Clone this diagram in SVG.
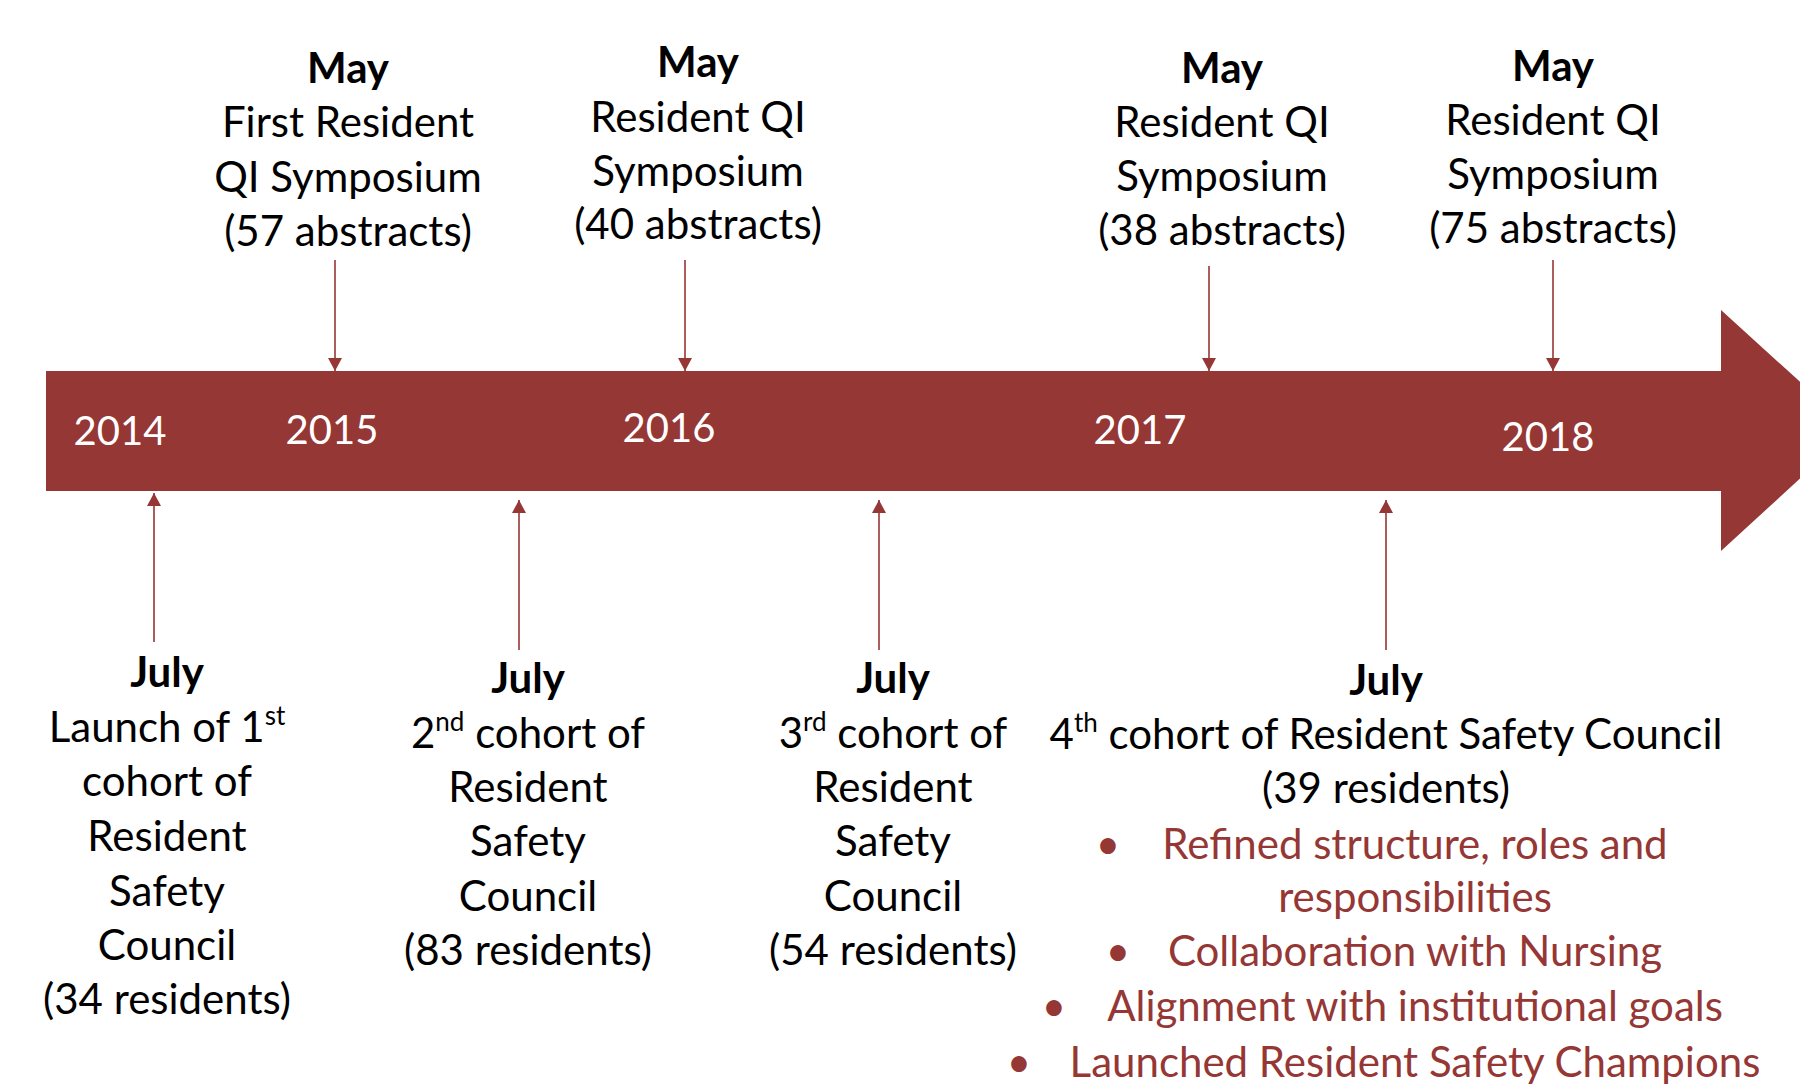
<svg xmlns="http://www.w3.org/2000/svg" width="1800" height="1088" viewBox="0 0 1800 1088">
<style>
.t{font-family:Lato,"Liberation Sans",sans-serif;font-size:42px;fill:#000;text-anchor:middle}
.b{font-weight:bold}
.y{font-family:Lato,"Liberation Sans",sans-serif;font-size:40px;fill:#fff;text-anchor:middle}
.r{fill:#953735}
.sup{font-size:26px}
.c{stroke:#953735;stroke-width:1.6;fill:none}
</style>
<defs>
<marker id="ah" markerUnits="userSpaceOnUse" markerWidth="14" markerHeight="14" refX="13" refY="7" orient="auto">
<path d="M0,0 L13,7 L0,14 z" fill="#953735"/>
</marker>
</defs>
<rect width="1800" height="1088" fill="#fff"/>
<g id="timeline">
<path d="M46,371 H1721 V310 L1853,430 L1721,551 V491 H46 Z" fill="#953735"/>
<text class="y" x="120" y="445">2014</text>
<text class="y" x="332" y="444">2015</text>
<text class="y" x="669" y="442">2016</text>
<text class="y" x="1140" y="444">2017</text>
<text class="y" x="1548" y="451">2018</text>
</g>
<g id="connectors">
<line class="c" x1="335" y1="260" x2="335" y2="371" marker-end="url(#ah)"/>
<line class="c" x1="685" y1="260" x2="685" y2="371" marker-end="url(#ah)"/>
<line class="c" x1="1209" y1="266" x2="1209" y2="371" marker-end="url(#ah)"/>
<line class="c" x1="1553" y1="260" x2="1553" y2="371" marker-end="url(#ah)"/>
<line class="c" x1="154" y1="642" x2="154" y2="493" marker-end="url(#ah)"/>
<line class="c" x1="519" y1="650" x2="519" y2="500" marker-end="url(#ah)"/>
<line class="c" x1="879" y1="650" x2="879" y2="500" marker-end="url(#ah)"/>
<line class="c" x1="1386" y1="650" x2="1386" y2="500" marker-end="url(#ah)"/>
</g>
<g id="may2015">
<text class="t b" x="348" y="83">May</text>
<text class="t" x="348" y="137">First Resident</text>
<text class="t" x="348" y="192">QI Symposium</text>
<text class="t" x="348" y="246">(57 abstracts)</text>
</g>
<g id="may2016">
<text class="t b" x="698" y="77">May</text>
<text class="t" x="698" y="132">Resident QI</text>
<text class="t" x="698" y="186">Symposium</text>
<text class="t" x="698" y="239">(40 abstracts)</text>
</g>
<g id="may2017">
<text class="t b" x="1222" y="83">May</text>
<text class="t" x="1222" y="137">Resident QI</text>
<text class="t" x="1222" y="191">Symposium</text>
<text class="t" x="1222" y="245">(38 abstracts)</text>
</g>
<g id="may2018">
<text class="t b" x="1553" y="81">May</text>
<text class="t" x="1553" y="135">Resident QI</text>
<text class="t" x="1553" y="189">Symposium</text>
<text class="t" x="1553" y="243">(75 abstracts)</text>
</g>
<g id="july2014">
<text class="t b" x="167" y="687">July</text>
<text class="t" x="167" y="742">Launch of 1<tspan class="sup" dy="-17">st</tspan></text>
<text class="t" x="167" y="796">cohort of</text>
<text class="t" x="167" y="851">Resident</text>
<text class="t" x="167" y="906">Safety</text>
<text class="t" x="167" y="960">Council</text>
<text class="t" x="167" y="1014">(34 residents)</text>
</g>
<g id="july2015">
<text class="t b" x="528" y="693">July</text>
<text class="t" x="528" y="748">2<tspan class="sup" dy="-17">nd</tspan><tspan dy="17"> cohort of</tspan></text>
<text class="t" x="528" y="802">Resident</text>
<text class="t" x="528" y="856">Safety</text>
<text class="t" x="528" y="911">Council</text>
<text class="t" x="528" y="965">(83 residents)</text>
</g>
<g id="july2016">
<text class="t b" x="893" y="693">July</text>
<text class="t" x="893" y="748">3<tspan class="sup" dy="-17">rd</tspan><tspan dy="17"> cohort of</tspan></text>
<text class="t" x="893" y="802">Resident</text>
<text class="t" x="893" y="856">Safety</text>
<text class="t" x="893" y="911">Council</text>
<text class="t" x="893" y="965">(54 residents)</text>
</g>
<g id="july2017">
<text class="t b" x="1386" y="695">July</text>
<text class="t" x="1386" y="749">4<tspan class="sup" dy="-17">th</tspan><tspan dy="17"> cohort of Resident Safety Council</tspan></text>
<text class="t" x="1386" y="803">(39 residents)</text>
<text class="t r" x="1108" y="859">•</text>
<text class="t r" x="1415" y="859">Refined structure, roles and</text>
<text class="t r" x="1415" y="912">responsibilities</text>
<text class="t r" x="1118" y="966">•</text>
<text class="t r" x="1415" y="966">Collaboration with Nursing</text>
<text class="t r" x="1054" y="1021">•</text>
<text class="t r" x="1415" y="1021">Alignment with institutional goals</text>
<text class="t r" x="1019" y="1077">•</text>
<text class="t r" x="1415" y="1077">Launched Resident Safety Champions</text>
</g>
</svg>
